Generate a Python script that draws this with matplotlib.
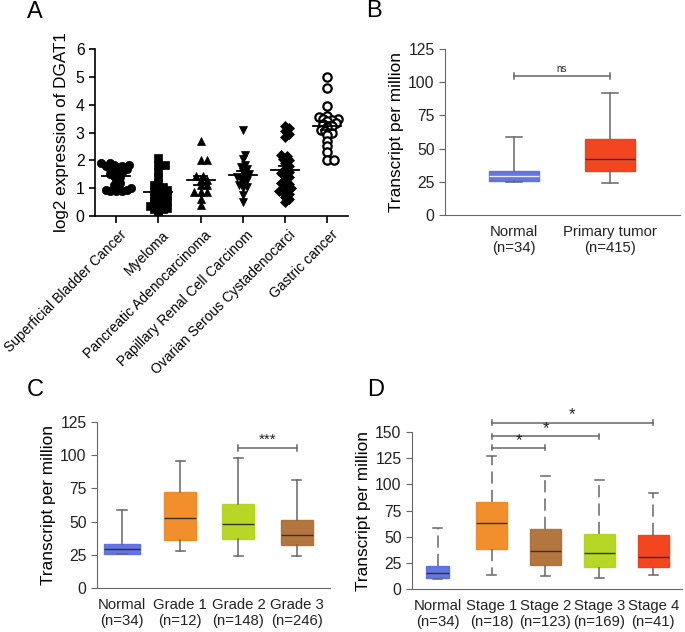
import numpy as np
import matplotlib
matplotlib.use("Agg")
import matplotlib.pyplot as plt
from matplotlib.transforms import ScaledTranslation

plt.rcParams["font.family"] = ["Liberation Sans", "DejaVu Sans"]

# ---------------------------------------------------------------------------
# Panel A data: log2 DGAT1 expression per cancer type (Oncomine style scatter)
# ---------------------------------------------------------------------------
a_labels = ["Superficial Bladder Cancer", "Myeloma", "Pancreatic Adenocarcinoma",
            "Papillary Renal Cell Carcinom", "Ovarian Serous Cystadenocarci",
            "Gastric cancer"]
a_bladder = [1.9, 1.9, 1.85, 1.85, 1.8, 1.8, 1.75, 1.7, 1.7, 1.65, 1.6, 1.55, 1.5,
             1.45, 1.4, 1.3, 1.2, 1.1, 1.05, 1.0, 0.95, 0.9, 0.9, 0.9, 0.95]
a_myeloma = [2.1, 1.85, 1.85, 1.6, 1.4, 1.2, 1.1, 1.05, 1.0, 0.95, 0.9, 0.85, 0.8,
             0.75, 0.7, 0.65, 0.6, 0.55, 0.5, 0.45, 0.4, 0.35, 0.3, 0.25, 0.2, 0.25]
a_pancreas = [2.7, 2.0, 2.0, 1.45, 1.45, 1.3, 1.3, 1.1, 1.1, 0.85, 0.85, 0.85, 0.6, 0.4]
a_renal = [3.1, 2.2, 2.05, 1.85, 1.75, 1.7, 1.6, 1.5, 1.45, 1.4, 1.35, 1.3, 1.2,
           1.1, 1.05, 1.0, 0.75, 0.5]
a_ovarian = [3.25, 3.15, 3.05, 2.95, 2.85, 2.2, 2.15, 2.05, 2.0, 1.9, 1.8, 1.7, 1.6,
             1.55, 1.5, 1.4, 1.3, 1.2, 1.15, 1.1, 1.0, 0.95, 0.9, 0.85, 0.8, 0.7,
             0.6, 0.5]
a_gastric = [5.0, 4.6, 3.95, 3.6, 3.55, 3.5, 3.5, 3.45, 3.4, 3.35, 3.3, 3.25, 3.2,
             3.1, 3.05, 3.0, 2.9, 2.7, 2.5, 2.3, 2.0, 2.0]
a_groups = [a_bladder, a_myeloma, a_pancreas, a_renal, a_ovarian, a_gastric]
a_markers = ["o", "s", "^", "v", "D", "o"]

# ---------------------------------------------------------------------------
# Panels B-D: box summaries (whislo, q1, median, q3, whishi) in TPM
# ---------------------------------------------------------------------------
b_labels = ["Normal\n(n=34)", "Primary tumor\n(n=415)"]
b_stats = [(25, 25.5, 29.5, 33.5, 58.5), (24, 33, 42.5, 57, 92)]

c_labels = ["Normal\n(n=34)", "Grade 1\n(n=12)", "Grade 2\n(n=148)", "Grade 3\n(n=246)"]
c_stats = [(25.5, 25.5, 29.5, 33.5, 58.5), (27.5, 36.5, 53, 72, 96),
           (24, 37, 48.5, 63, 98), (24, 32.5, 40, 51, 81)]

d_labels = ["Normal\n(n=34)", "Stage 1\n(n=18)", "Stage 2\n(n=123)",
            "Stage 3\n(n=169)", "Stage 4\n(n=41)"]
d_stats = [(10, 10.5, 15, 22, 58.5), (13, 38, 63, 83, 127), (12, 23, 36, 57, 108),
           (11, 21, 34, 53, 104), (13, 21, 31, 52, 92)]

BLUE, ORANGE, GREEN, BROWN, RED = "#5b6fe0", "#f0891f", "#b3d51b", "#b06f34", "#f23c14"
GRAY = "#666666"


def swarm_offsets(vals, ax, diam_px):
    """Simple beeswarm: horizontal offsets (data units) so markers barely overlap."""
    fig = ax.figure
    bb = ax.get_position()
    w_px = bb.width * fig.get_figwidth() * fig.dpi
    h_px = bb.height * fig.get_figheight() * fig.dpi
    x0, x1 = ax.get_xlim()
    y0, y1 = ax.get_ylim()
    sx = w_px / (x1 - x0)
    sy = h_px / (y1 - y0)
    order = np.argsort(vals)
    placed = []
    offs = np.zeros(len(vals))
    step = diam_px * 0.3
    for i in order:
        y = vals[i] * sy
        k = 0
        while True:
            cand = 0.0 if k == 0 else ((k + 1) // 2) * step * (1 if k % 2 else -1)
            if all((cand - px) ** 2 + (y - py) ** 2 >= (diam_px * 0.62) ** 2
                   for px, py in placed):
                break
            k += 1
        placed.append((cand, y))
        offs[i] = cand / sx
    return offs


def style_box_axes(ax):
    for s in ("top", "right"):
        ax.spines[s].set_visible(False)
    for s in ("left", "bottom"):
        ax.spines[s].set_color(GRAY)
    ax.tick_params(axis="y", colors="#222222", labelsize=11.3, length=4, color=GRAY)
    ax.tick_params(axis="x", length=0, labelsize=10.7, pad=7, colors="#222222")
    ax.set_ylabel("Transcript per million", fontsize=12.4, labelpad=3)


def draw_boxes(ax, stats, colors, widths, labels, dashed=False, medcolors=None):
    bx = []
    for (lo, q1, med, q3, hi) in stats:
        bx.append(dict(whislo=lo, q1=q1, med=med, q3=q3, whishi=hi, fliers=[]))
    arts = ax.bxp(bx, positions=np.arange(1, len(bx) + 1), widths=widths,
                  patch_artist=True, showfliers=False, capwidths=0.16,
                  whiskerprops=dict(color=GRAY, lw=1.1,
                                    linestyle=(0, (8, 4)) if dashed else "-"),
                  capprops=dict(color=GRAY, lw=1.1),
                  medianprops=dict(color="#333333", lw=1.0))
    for i, p in enumerate(arts["boxes"]):
        p.set_facecolor(colors[i])
        p.set_edgecolor(colors[i])
        p.set_alpha(0.95)
    if medcolors:
        for m, c in zip(arts["medians"], medcolors):
            m.set_color(c)
    ax.set_xticks(np.arange(1, len(bx) + 1), labels)


def sig_bar(ax, x1, x2, y, txt, tick, fs, dy):
    ax.plot([x1, x2], [y, y], color=GRAY, lw=1.1, clip_on=False)
    ax.plot([x1, x1], [y - tick, y + tick], color=GRAY, lw=1.1, clip_on=False)
    ax.plot([x2, x2], [y - tick, y + tick], color=GRAY, lw=1.1, clip_on=False)
    ax.text((x1 + x2) / 2, y + dy, txt, ha="center", va="bottom", fontsize=fs,
            color="#222222", clip_on=False)


fig = plt.figure(figsize=(6.85, 6.32), dpi=100)

# ---- A: scatter with mean ± SEM ----
axA = fig.add_axes([0.1387, 0.658, 0.370, 0.2645])
axA.set_xlim(-0.5, 5.5)
axA.set_ylim(0, 6)
for i, (vals, mk) in enumerate(zip(a_groups, a_markers)):
    vals = np.asarray(vals, dtype=float)
    offs = swarm_offsets(vals, axA, 7.0)
    face = "white" if i == 5 else "black"
    ms = 6.0 if mk in ("o", "s") else 5.5
    if mk == "D":
        ms = 4.6
    axA.plot(i + offs, vals, linestyle="none", marker=mk, ms=ms, mfc=face,
             mec="black", mew=1.6 if i == 5 else 0.5, zorder=3)
    m = vals.mean()
    sem = vals.std(ddof=1) / np.sqrt(len(vals))
    axA.plot([i - 0.33, i + 0.33], [m, m], color="black", lw=1.3, zorder=4)
    axA.plot([i, i], [m - sem, m + sem], color="black", lw=1.3, zorder=4)
    for yy in (m - sem, m + sem):
        axA.plot([i - 0.15, i + 0.15], [yy, yy], color="black", lw=1.3, zorder=4)
for s in ("top", "right"):
    axA.spines[s].set_visible(False)
axA.spines["left"].set_linewidth(1.2)
axA.spines["bottom"].set_linewidth(1.2)
axA.set_yticks(range(0, 7))
axA.tick_params(axis="y", labelsize=11.3, length=4, width=1.2)
axA.tick_params(axis="x", labelsize=10, length=5, width=1.2, pad=3)
axA.set_xticks(range(6))
axA.set_xticklabels(a_labels, rotation=45, ha="right", va="center",
                    rotation_mode="anchor")
shift = ScaledTranslation(6 / 72, -4 / 72, fig.dpi_scale_trans)
for lab in axA.get_xticklabels():
    lab.set_transform(lab.get_transform() + shift)
axA.set_ylabel("log2 expression of DGAT1", fontsize=12.3, labelpad=5)

# ---- B ----
axB = fig.add_axes([0.6496, 0.6598, 0.343, 0.2627])
draw_boxes(axB, b_stats, [BLUE, RED], [0.53, 0.53], b_labels,
           medcolors=["#e6e6e6", "#333333"])
axB.set_xlim(0.28, 2.73)
axB.set_ylim(0, 125)
axB.set_yticks([0, 25, 50, 75, 100, 125])
style_box_axes(axB)
sig_bar(axB, 1, 2, 104.5, "ns", 2.2, 7, 2.0)

# ---- C ----
axC = fig.add_axes([0.1416, 0.0696, 0.340, 0.2627])
draw_boxes(axC, c_stats, [BLUE, ORANGE, GREEN, BROWN], [0.62, 0.55, 0.55, 0.55],
           c_labels)
axC.set_xlim(0.57, 4.57)
axC.set_ylim(0, 125)
axC.set_yticks([0, 25, 50, 75, 100, 125])
style_box_axes(axC)
sig_bar(axC, 3, 4, 105.5, "***", 2.2, 11, 1.0)

# ---- D ----
axD = fig.add_axes([0.6015, 0.068, 0.394, 0.2484])
draw_boxes(axD, d_stats, [BLUE, ORANGE, BROWN, GREEN, RED],
           [0.42, 0.57, 0.57, 0.57, 0.57], d_labels, dashed=True)
axD.set_xlim(0.525, 5.53)
axD.set_ylim(0, 150)
axD.set_yticks([0, 25, 50, 75, 100, 125, 150])
style_box_axes(axD)
sig_bar(axD, 2, 3, 135, "*", 2.5, 12, 0.0)
sig_bar(axD, 2, 4, 146, "*", 2.5, 12, 0.0)
sig_bar(axD, 2, 5, 159, "*", 2.5, 12, 0.0)

# ---- panel letters ----
for txt, x, y in [("A", 0.039, 0.981), ("B", 0.534, 0.983),
                  ("C", 0.039, 0.383), ("D", 0.536, 0.383)]:
    fig.text(x, y, txt, fontsize=17, ha="left", va="center")

fig.savefig("out.png", dpi=100)
